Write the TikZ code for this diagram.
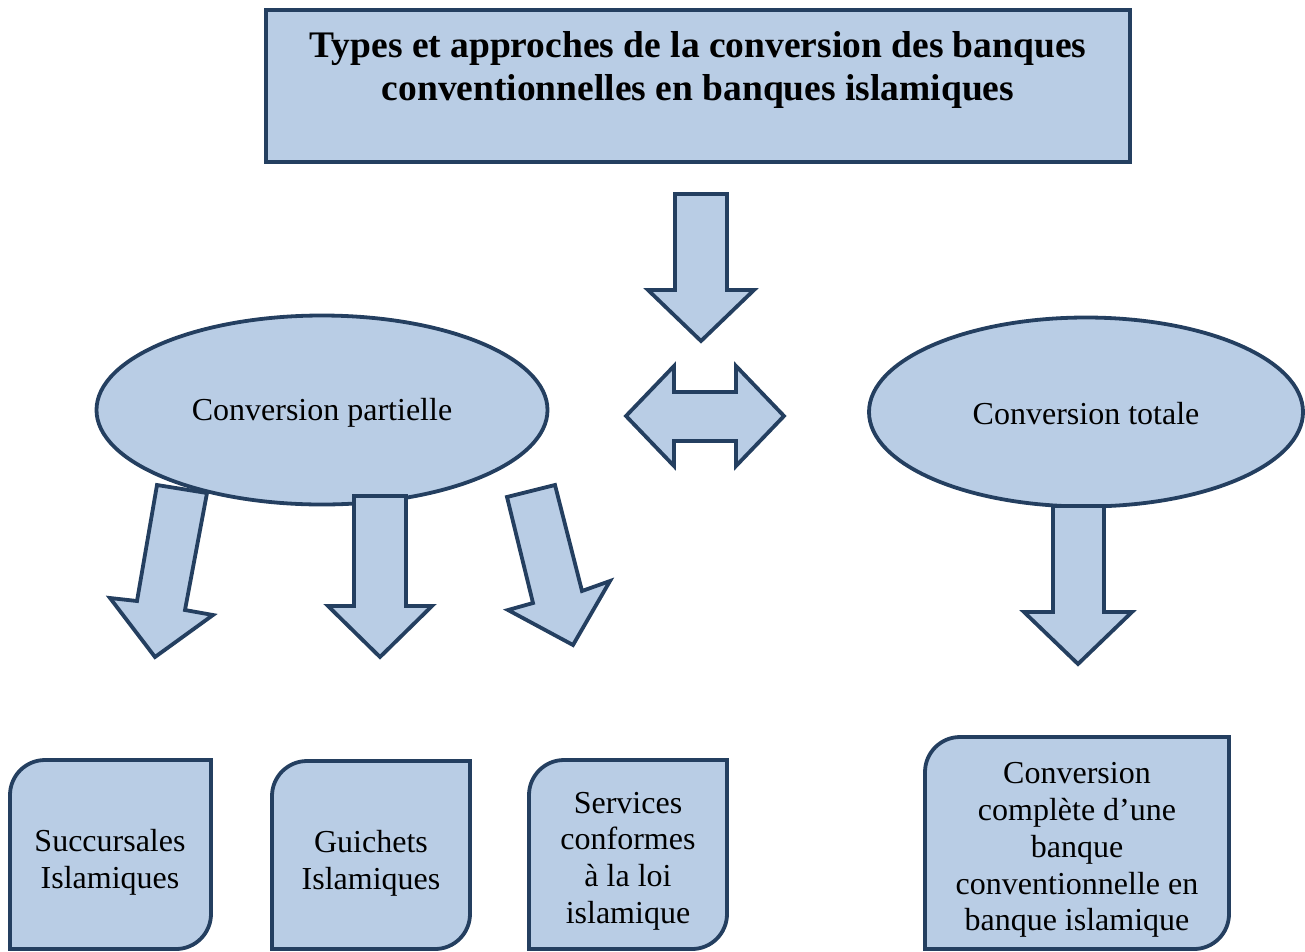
\documentclass[tikz,border=0pt]{standalone}
\usepackage{fontspec}
\setmainfont{Liberation Serif}
\usetikzlibrary{shapes.geometric}
\definecolor{fillb}{HTML}{B9CDE5}
\definecolor{lineb}{HTML}{243F60}
\tikzset{
  shapebox/.style={draw=lineb, fill=fillb, line width=3.8pt, line join=miter},
  lbl/.style={align=center, font=\fontsize{32}{36.8}\selectfont, inner sep=0pt, text=black},
  ttl/.style={align=center, font=\fontsize{37.5}{42.5}\selectfont\bfseries, inner sep=0pt, text=black},
}
\begin{document}
\begin{tikzpicture}[x=1pt,y=1pt]
\useasboundingbox (0,0) rectangle (1305,-951);
% title
\draw[shapebox] (266,-10) rectangle (1130,-162);
\node[ttl] (title) at (698,-70) {Types et approches de la conversion des banques\\conventionnelles en banques islamiques};
% down arrow
\draw[shapebox] (675,-194) -- (727,-194) -- (727,-290) -- (754,-290) -- (701,-341) -- (648,-290) -- (675,-290) -- cycle;
% double arrow
\draw[shapebox] (626,-416) -- (674,-366) -- (674,-392) -- (736,-392) -- (736,-366) -- (784,-416) -- (736,-466) -- (736,-441) -- (674,-441) -- (674,-466) -- cycle;
% ellipses
\node[shapebox, ellipse, minimum width=451pt, minimum height=189pt, inner sep=0pt] (partielle) at (322,-410) {};
\node[lbl] (tpart) at (322,-413) {Conversion partielle};
\node[shapebox, ellipse, minimum width=434pt, minimum height=189pt, inner sep=0pt] (totale) at (1086,-412) {};
\node[lbl] (ttot) at (1086,-414) {Conversion totale};
% arrows from partielle
\draw[shapebox] (157,-485) -- (207,-493) -- (185,-610) -- (213,-615) -- (155,-657) -- (110,-598) -- (137,-601) -- cycle;
\draw[shapebox] (354,-496) -- (406,-496) -- (406,-606) -- (432,-606) -- (380,-657) -- (328,-606) -- (354,-606) -- cycle;
\draw[shapebox] (507,-497) -- (555,-485) -- (582,-591) -- (610,-581) -- (573,-645) -- (508,-610) -- (533,-603) -- cycle;
% arrow from totale
\draw[shapebox] (1053,-506) -- (1104,-506) -- (1104,-612) -- (1132,-612) -- (1078,-664) -- (1024,-612) -- (1053,-612) -- cycle;
% bottom boxes
\draw[shapebox] (10,-949) -- (10,-795) arc[start angle=180,end angle=90,radius=35] -- (211,-760) -- (211,-914) arc[start angle=0,end angle=-90,radius=35] -- cycle;
\node[lbl] (b1) at (110,-862) {Succursales\\Islamiques};
\draw[shapebox] (272,-949) -- (272,-796) arc[start angle=180,end angle=90,radius=35] -- (470,-761) -- (470,-914) arc[start angle=0,end angle=-90,radius=35] -- cycle;
\node[lbl] (b2) at (371,-863) {Guichets\\Islamiques};
\draw[shapebox] (529,-949) -- (529,-795) arc[start angle=180,end angle=90,radius=35] -- (727,-760) -- (727,-914) arc[start angle=0,end angle=-90,radius=35] -- cycle;
\node[lbl] (b3) at (628,-861) {Services\\conformes\\à la loi\\islamique};
\draw[shapebox] (925,-949) -- (925,-772) arc[start angle=180,end angle=90,radius=35] -- (1229,-737) -- (1229,-914) arc[start angle=0,end angle=-90,radius=35] -- cycle;
\node[lbl] (b4) at (1077,-850) {Conversion\\complète d’une\\banque\\conventionnelle en\\banque islamique};
\end{tikzpicture}
\end{document}
